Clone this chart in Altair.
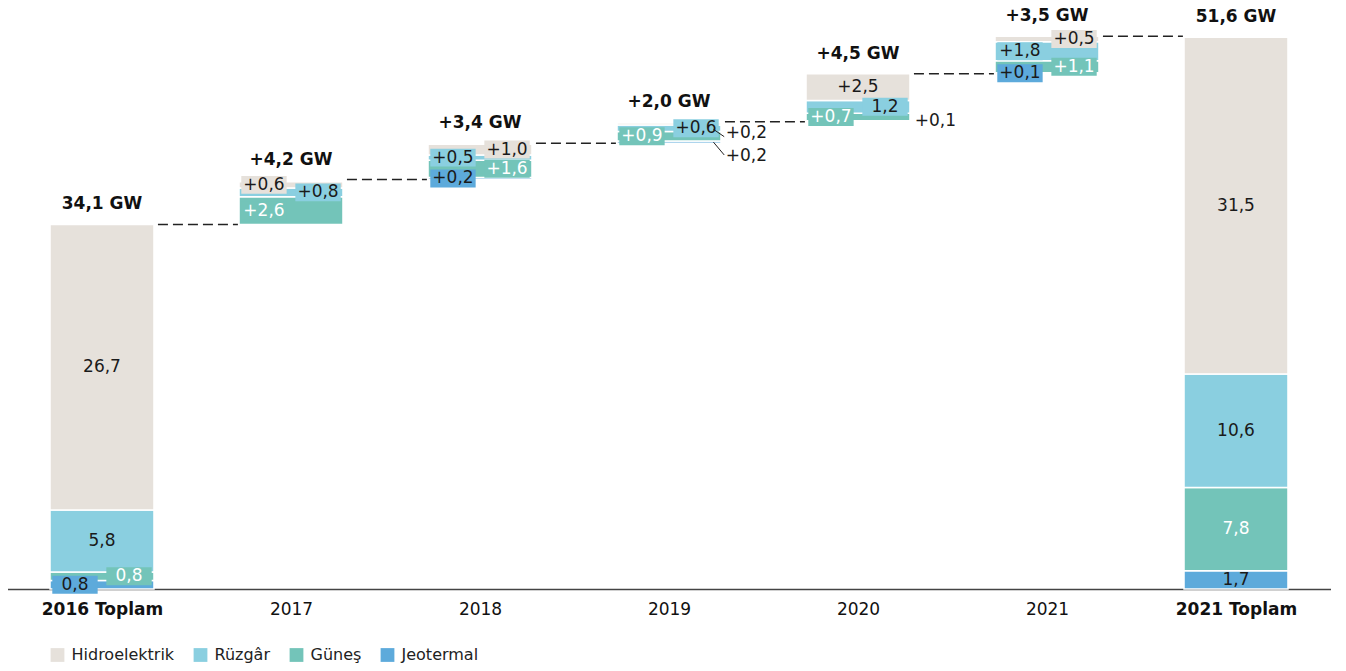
import json
import altair as alt
import pandas as pd

# ---------------- data ----------------
categories = ["2016 Toplam", "2017", "2018", "2019", "2020", "2021", "2021 Toplam"]
sources = ["Hidroelektrik", "Rüzgâr", "Güneş", "Jeotermal"]
stack_order = ["Jeotermal", "Güneş", "Rüzgâr", "Hidroelektrik"]

total_2016 = [26.7, 5.8, 0.8, 0.8]      # Hidro, Rüzgâr, Güneş, Jeotermal
total_2021 = [31.5, 10.6, 7.8, 1.7]

years = ["2017", "2018", "2019", "2020", "2021"]
inc_hidro = [0.6, 1.0, 0.2, 2.5, 0.5]
inc_ruzgar = [0.8, 0.5, 0.6, 1.2, 1.8]
inc_gunes = [2.6, 1.6, 0.9, 0.7, 1.1]
inc_jeo = [0.0, 0.2, 0.2, 0.1, 0.1]

lbl_hidro = ["+0,6", "+1,0", "+0,2", "+2,5", "+0,5"]
lbl_ruzgar = ["+0,8", "+0,5", "+0,6", "1,2", "+1,8"]
lbl_gunes = ["+2,6", "+1,6", "+0,9", "+0,7", "+1,1"]
lbl_jeo = ["", "+0,2", "+0,2", "+0,1", "+0,1"]

header_values = [34.1, 4.2, 3.4, 2.0, 4.5, 3.5, 51.6]
header_labels = ["34,1 GW", "+4,2 GW", "+3,4 GW", "+2,0 GW", "+4,5 GW", "+3,5 GW", "51,6 GW"]

# ---------------- style ----------------
colors = {"Hidroelektrik": "#E6E1DB", "Rüzgâr": "#8ACFE0", "Güneş": "#73C4B9", "Jeotermal": "#5DAADB"}
FONT = "DejaVu Sans"
DARK = "#1a1a1a"
HALF = 0.275     # half bar width in category units
BOXW = 0.12
BOXH = 0.84

place = {
    ("2016 Toplam", "Hidroelektrik"): "c", ("2016 Toplam", "Rüzgâr"): "c",
    ("2016 Toplam", "Güneş"): "r", ("2016 Toplam", "Jeotermal"): "l",
    ("2017", "Hidroelektrik"): "l", ("2017", "Rüzgâr"): "r", ("2017", "Güneş"): "l",
    ("2018", "Hidroelektrik"): "r", ("2018", "Rüzgâr"): "l", ("2018", "Güneş"): "r", ("2018", "Jeotermal"): "l",
    ("2019", "Hidroelektrik"): "out", ("2019", "Rüzgâr"): "r", ("2019", "Güneş"): "l", ("2019", "Jeotermal"): "out",
    ("2020", "Hidroelektrik"): "c", ("2020", "Rüzgâr"): "r", ("2020", "Güneş"): "l", ("2020", "Jeotermal"): "out",
    ("2021", "Hidroelektrik"): "r", ("2021", "Rüzgâr"): "l", ("2021", "Güneş"): "r", ("2021", "Jeotermal"): "l",
}
out_layout = {
    ("2019", "Hidroelektrik"): (-0.84, -0.5, -0.35, True),
    ("2019", "Jeotermal"): (-1.3, 0.0, 0.1, True),
    ("2020", "Jeotermal"): (0.0, 0.0, 0.0, False),
}

# ---------------- build tables ----------------
seg_rows = []
run = header_values[0]
tops = [header_values[0]]
for v in header_values[1:6]:
    run = run + v
    tops.append(run)

def add_stack(cat_idx, base, vals, texts):
    y = base
    for src in stack_order:
        v = vals[src]
        if v <= 0:
            continue
        seg_rows.append(dict(cat=categories[cat_idx], idx=cat_idx, source=src,
                             y0=y, y1=y + v, mid=y + v / 2, text=texts[src]))
        y += v

def fmt(v):
    return f"{v:.1f}".replace(".", ",")

add_stack(0, 0.0, dict(zip(sources, total_2016)), {s: fmt(v) for s, v in zip(sources, total_2016)})
for i, yr in enumerate(years):
    vals = {"Hidroelektrik": inc_hidro[i], "Rüzgâr": inc_ruzgar[i], "Güneş": inc_gunes[i], "Jeotermal": inc_jeo[i]}
    texts = {"Hidroelektrik": lbl_hidro[i], "Rüzgâr": lbl_ruzgar[i], "Güneş": lbl_gunes[i], "Jeotermal": lbl_jeo[i]}
    add_stack(i + 1, tops[i], vals, texts)
add_stack(6, 0.0, dict(zip(sources, total_2021)), {s: fmt(v) for s, v in zip(sources, total_2021)})

segs = pd.DataFrame(seg_rows)
segs["xa"] = segs["idx"] - HALF
segs["xb"] = segs["idx"] + HALF

lab_rows, box_rows, lead_rows = [], [], []
for r in seg_rows:
    side = place.get((r["cat"], r["source"]), "c")
    tcol = "white" if r["source"] == "Güneş" else DARK
    if side == "out":
        tdy, s0, e0, lead = out_layout[(r["cat"], r["source"])]
        ty = r["mid"] + tdy
        lab_rows.append(dict(x=r["idx"] + 0.30, y=ty, text=r["text"], tcol=DARK, align="left"))
        if lead:
            lead_rows.append(dict(x=r["idx"] + 0.235, x2=r["idx"] + 0.292, y=r["mid"] + s0, y2=ty + e0))
        continue
    off = {"l": -0.143, "r": 0.143, "c": 0.0}[side]
    xc = r["idx"] + off
    lab_rows.append(dict(x=xc, y=r["mid"], text=r["text"], tcol=tcol, align="center"))
    if side in ("l", "r"):
        box_rows.append(dict(xa=xc - BOXW, xb=xc + BOXW, ya=r["mid"] - BOXH, yb=r["mid"] + BOXH,
                             fill=colors[r["source"]]))

labs = pd.DataFrame(lab_rows)
boxes = pd.DataFrame(box_rows)
leads = pd.DataFrame(lead_rows)

head_tops = [tops[0]] + [tops[i] + header_values[i + 1] for i in range(5)] + [sum(total_2021)]
heads = pd.DataFrame(dict(x=list(range(7)), y=head_tops, text=header_labels))

conn = pd.DataFrame(dict(xa=[i + HALF + 0.021 for i in range(6)],
                         xb=[i + 1 - HALF - 0.006 for i in range(6)],
                         y=tops))

# ---------------- chart ----------------
xscale = alt.Scale(domain=[-0.5, 6.5], nice=False, zero=False)
yscale = alt.Scale(domain=[0, 55], nice=False, zero=False)
label_expr = json.dumps(categories) + "[datum.value]"

bars = alt.Chart(segs).mark_rect(stroke="white", strokeWidth=1.5).encode(
    x=alt.X("xa:Q", scale=xscale, title=None,
            axis=alt.Axis(values=list(range(7)), labelExpr=label_expr, ticks=False, grid=False,
                          domainColor="#444", domainWidth=1.5, labelFontSize=17, labelFont=FONT,
                          labelColor="#111", labelPadding=12, labelOverlap=False, labelFlush=False,
                          labelFontWeight=alt.ExprRef("datum.value == 0 || datum.value == 6 ? 'bold' : 'normal'"))),
    x2="xb:Q",
    y=alt.Y("y0:Q", scale=yscale, axis=None),
    y2="y1:Q",
    color=alt.Color("source:N", scale=alt.Scale(domain=sources, range=[colors[s] for s in sources]),
                    legend=alt.Legend(title=None, orient="none", legendX=42, legendY=646,
                                      direction="horizontal", symbolType="square", symbolSize=190,
                                      symbolStrokeWidth=0, labelFontSize=16, labelFont=FONT,
                                      labelColor="#222", columnPadding=18, labelOffset=6)),
)

box_layer = alt.Chart(boxes).mark_rect().encode(
    x="xa:Q", x2="xb:Q", y="ya:Q", y2="yb:Q",
    fill=alt.Fill("fill:N", scale=None),
)

text_c = alt.Chart(labs[labs["align"] == "center"]).mark_text(
    fontSize=17, font=FONT, baseline="middle", align="center").encode(
    x="x:Q", y="y:Q", text="text:N", color=alt.Color("tcol:N", scale=None))

text_l = alt.Chart(labs[labs["align"] == "left"]).mark_text(
    fontSize=17, font=FONT, baseline="middle", align="left").encode(
    x="x:Q", y="y:Q", text="text:N", color=alt.Color("tcol:N", scale=None))

leader = alt.Chart(leads).mark_rule(color="#222", strokeWidth=1).encode(
    x="x:Q", x2="x2:Q", y="y:Q", y2="y2:Q")

connectors = alt.Chart(conn).mark_rule(color="#222", strokeWidth=1.5, strokeDash=[10, 5]).encode(
    x="xa:Q", x2="xb:Q", y="y:Q")

header = alt.Chart(heads).mark_text(fontSize=17, font=FONT, fontWeight="bold", baseline="middle",
                                    align="center", dy=-20, color="#111").encode(
    x="x:Q", y="y:Q", text="text:N")

chart = alt.layer(bars, box_layer, connectors, leader, text_c, text_l, header).properties(
    width=1323, height=588,
    autosize=alt.AutoSizeParams(type="none"),
    padding={"left": 7.5, "top": 1, "right": 15.5, "bottom": 82},
).configure_view(strokeWidth=0)

chart.save("out.html", embed_options={"renderer": "svg", "actions": False})
